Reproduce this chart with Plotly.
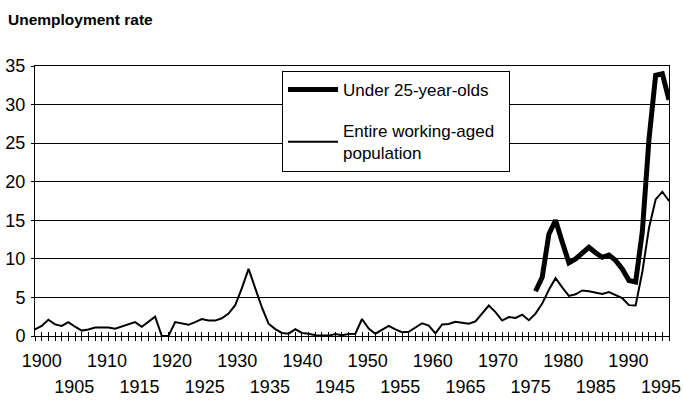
import plotly.graph_objects as go

years = list(range(1900, 1996))

total = [
    0.85, 1.3, 2.1, 1.5, 1.3, 1.8, 1.2, 0.7, 0.85, 1.1,   # 1900-1909
    1.1, 1.1, 0.95, 1.2, 1.5, 1.8, 1.2, 1.8, 2.5, 0.0,    # 1910-1919
    0.0, 1.8, 1.6, 1.45, 1.8, 2.2, 2.0, 2.0, 2.3, 2.9,    # 1920-1929
    4.0, 6.2, 8.7, 6.3, 3.7, 1.6, 0.9, 0.4, 0.3, 0.9,     # 1930-1939
    0.4, 0.3, 0.1, 0.05, 0.05, 0.25, 0.1, 0.25, 0.3, 2.2, # 1940-1949
    0.95, 0.3, 0.8, 1.3, 0.85, 0.5, 0.55, 1.05, 1.65, 1.35, # 1950-1959
    0.35, 1.5, 1.55, 1.85, 1.75, 1.6, 1.9, 2.95, 3.95, 3.1, # 1960-1969
    2.0, 2.45, 2.35, 2.75, 2.05, 2.9, 4.2, 6.0, 7.5, 6.3,   # 1970-1979
    5.2, 5.4, 5.9, 5.8, 5.6, 5.45, 5.7, 5.3, 4.9, 4.0,      # 1980-1989
    3.95, 8.3, 14.0, 17.7, 18.7, 17.5,                      # 1990-1995
]

youth_years = list(range(1975, 1996))
youth = [
    5.8, 7.6, 13.2, 15.0, 12.2, 9.5, 10.0, 10.8, 11.5, 10.8,  # 1975-1984
    10.2, 10.5, 9.8, 8.7, 7.2, 7.0, 13.5, 25.5, 33.8, 34.0,   # 1985-1994
    30.6,                                                     # 1995
]

major_labels = list(range(1900, 1991, 10))
minor_labels = list(range(1905, 1996, 10))
y_ticks = list(range(0, 36, 5))

FONT = "Liberation Sans, Arial, sans-serif"
DATA_RANGE = [1900, 1995]
LABEL_RANGE = [1898.97, 1996.23]  # staggered labels sit slightly compressed, as in the original

fig = go.Figure()
fig.add_trace(go.Scatter(
    x=youth_years, y=youth, mode="lines", name="Under 25-year-olds",
    line=dict(color="black", width=5), legendgroup="a",
))
fig.add_trace(go.Scatter(
    x=years, y=total, mode="lines",
    name="Entire working-aged\u00a0\u00a0<br>population",
    line=dict(color="black", width=2), legendgroup="b",
))
for ax in ("x2", "x3", "x4"):
    fig.add_trace(go.Scatter(x=[years[0], years[-1]], y=[None, None], xaxis=ax,
                             showlegend=False, hoverinfo="skip"))

common_x = dict(showgrid=False, zeroline=False, tickcolor="black", automargin=False)

fig.update_layout(
    width=683, height=400,
    margin=dict(l=35, r=14, t=66, b=64, autoexpand=False),
    paper_bgcolor="white", plot_bgcolor="white",
    font=dict(family=FONT, color="black", size=18),
    title=dict(text="<b>Unemployment rate</b>", x=8 / 683, xanchor="left",
               y=1 - 20 / 400, yanchor="middle",
               font=dict(size=15.5, family=FONT, color="black")),
    showlegend=True,
    legend=dict(
        x=(282 - 35) / 634, y=(336 - 71) / 270, xanchor="left", yanchor="top",
        bordercolor="black", borderwidth=1, bgcolor="white",
        font=dict(size=17, family=FONT, color="black"),
        tracegroupgap=16, itemwidth=50,
    ),
    # main axis: outward year ticks
    xaxis=dict(
        range=DATA_RANGE, tickmode="linear", tick0=1900, dtick=1,
        ticks="outside", ticklen=4, showticklabels=False,
        showline=True, linecolor="black", linewidth=1, mirror=True, **common_x,
    ),
    # inward year ticks (together: crossing tick marks)
    xaxis2=dict(
        range=DATA_RANGE, overlaying="x", side="bottom", anchor="y",
        tickmode="linear", tick0=1900, dtick=1,
        ticks="inside", ticklen=4, showticklabels=False, showline=False, **common_x,
    ),
    # first label row
    xaxis3=dict(
        range=LABEL_RANGE, overlaying="x", side="bottom", anchor="y",
        tickvals=major_labels, ticktext=[str(v) for v in major_labels],
        ticks="", showline=False, ticklabelstandoff=12, tickfont=dict(size=18),
        **common_x,
    ),
    # second (staggered) label row
    xaxis4=dict(
        range=LABEL_RANGE, overlaying="x", side="bottom", anchor="y",
        tickvals=minor_labels, ticktext=[str(v) for v in minor_labels],
        ticks="", showline=False, ticklabelstandoff=38, tickfont=dict(size=18),
        **common_x,
    ),
    yaxis=dict(
        range=[0, 35], tickvals=y_ticks, ticks="outside", ticklen=3, tickcolor="black",
        showgrid=True, gridcolor="black", gridwidth=1,
        showline=True, linecolor="black", linewidth=1, mirror=True,
        zeroline=False, tickfont=dict(size=18), ticklabelstandoff=2, automargin=False,
    ),
)

fig.write_html("out.html", config={"displayModeBar": False},
               post_script="document.body.style.margin='0';document.body.style.overflow='hidden';")
